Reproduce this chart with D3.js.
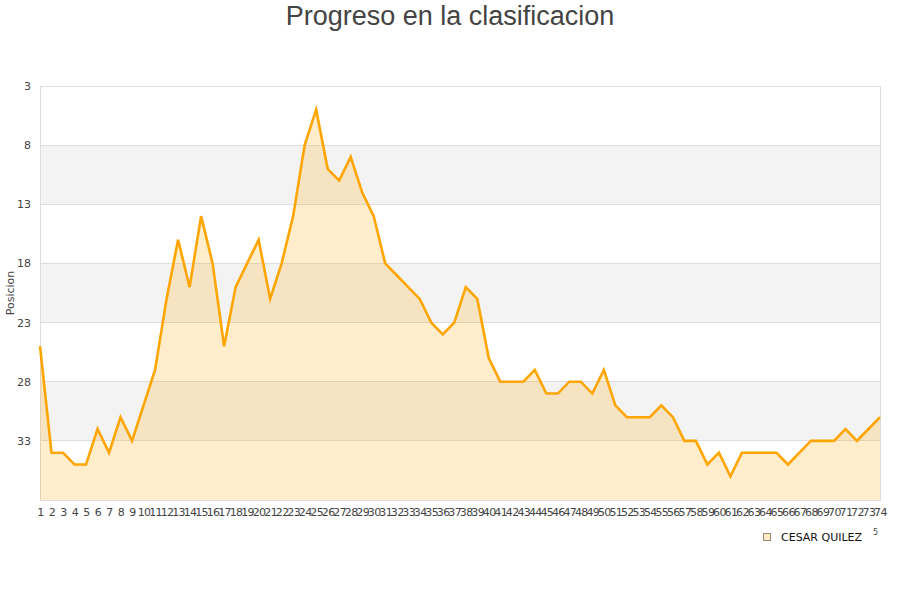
<!DOCTYPE html>
<html>
<head>
<meta charset="utf-8">
<script src="https://cdn.jsdelivr.net/npm/d3@7"></script>
<style>
  html, body { margin: 0; padding: 0; background: #fff; }
  svg { display: block; }
</style>
</head>
<body>
<svg id="chart" width="900" height="600"></svg>
<script>
// ---- data ----
const title = "Progreso en la clasificacion";
const yLabel = "Posicion";
const seriesName = "CESAR QUILEZ";
const rounds = d3.range(1, 75); // 1..74
const positions = [
  25, 34, 34, 35, 35, 32, 34, 31, 33, 30,
  27, 21, 16, 20, 14, 18, 25, 20, 18, 16,
  21, 18, 14, 8, 5, 10, 11, 9, 12, 14,
  18, 19, 20, 21, 23, 24, 23, 20, 21, 26,
  28, 28, 28, 27, 29, 29, 28, 28, 29, 27,
  30, 31, 31, 31, 30, 31, 33, 33, 35, 34,
  36, 34, 34, 34, 34, 35, 34, 33, 33, 33,
  32, 33, 32, 31
];
const yTicks = [3, 8, 13, 18, 23, 28, 33];
const yDomain = [3, 38];
const bands = [[8, 13], [18, 23], [28, 33]];

// ---- layout ----
const svg = d3.select("#chart");
const pLeft = 40, pRight = 880, pTop = 86, pBottom = 500;

const x = d3.scaleLinear().domain([1, 74]).range([pLeft, pRight]);
const y = d3.scaleLinear().domain(yDomain).range([pTop, pBottom]);

// title
svg.append("text")
  .attr("x", 450).attr("y", 25)
  .attr("text-anchor", "middle")
  .attr("font-family", "Liberation Sans, Arial, sans-serif")
  .attr("font-size", 27)
  .attr("fill", "#444")
  .text(title);

// bands
svg.append("g").selectAll("rect").data(bands).join("rect")
  .attr("x", pLeft).attr("width", pRight - pLeft)
  .attr("y", d => y(d[0])).attr("height", d => y(d[1]) - y(d[0]))
  .attr("fill", "#f3f3f3");

// grid lines
svg.append("g").selectAll("line").data(yTicks).join("line")
  .attr("x1", pLeft).attr("x2", pRight)
  .attr("y1", d => y(d)).attr("y2", d => y(d))
  .attr("stroke", "#dddddd").attr("stroke-width", 1)
  .attr("shape-rendering", "crispEdges");

// frame
svg.append("rect")
  .attr("x", pLeft).attr("y", pTop)
  .attr("width", pRight - pLeft).attr("height", pBottom - pTop)
  .attr("fill", "none").attr("stroke", "#dddddd")
  .attr("shape-rendering", "crispEdges");

const pts = rounds.map((r, i) => [r, positions[i]]);

// area
svg.append("path")
  .datum(pts)
  .attr("d", d3.area().x(d => x(d[0])).y0(y(yDomain[1])).y1(d => y(d[1])))
  .attr("fill", "rgba(255,165,0,0.2)");

// line
svg.append("path")
  .datum(pts)
  .attr("d", d3.line().x(d => x(d[0])).y(d => y(d[1])))
  .attr("fill", "none")
  .attr("stroke", "#FFA500")
  .attr("stroke-width", 2.6)
  .attr("stroke-linejoin", "miter");

// y axis ticks
const yAxis = d3.axisLeft(y).tickValues(yTicks).tickSize(0).tickPadding(0);
const gy = svg.append("g").attr("transform", `translate(${pLeft - 9},0)`).call(yAxis);
gy.select(".domain").remove();
gy.selectAll("text")
  .attr("font-family", "DejaVu Sans, sans-serif")
  .attr("font-size", 11)
  .attr("fill", "#444");

// x axis ticks
const xAxis = d3.axisBottom(x).tickValues(rounds).tickSize(0).tickPadding(0).tickFormat(d3.format("d"));
const gx = svg.append("g").attr("transform", `translate(0,${pBottom + 8})`).call(xAxis);
gx.select(".domain").remove();
gx.selectAll("text")
  .attr("font-family", "DejaVu Sans, sans-serif")
  .attr("font-size", 11)
  .attr("letter-spacing", -0.6)
  .attr("fill", "#444");

// y label
svg.append("text")
  .attr("transform", `translate(14,${(pTop + pBottom) / 2}) rotate(-90)`)
  .attr("text-anchor", "middle")
  .attr("font-family", "DejaVu Sans, sans-serif")
  .attr("font-size", 11)
  .attr("fill", "#444")
  .text(yLabel);

// legend
svg.append("rect")
  .attr("x", 763.5).attr("y", 533.5).attr("width", 7).attr("height", 7)
  .attr("fill", "#FEEBC9").attr("stroke", "#9a8a70").attr("stroke-width", 1);
svg.append("text")
  .attr("x", 781).attr("y", 541)
  .attr("font-family", "DejaVu Sans, sans-serif")
  .attr("font-size", 11)
  .attr("fill", "#111")
  .text(seriesName);
svg.append("text")
  .attr("x", 873).attr("y", 535)
  .attr("font-family", "DejaVu Sans, sans-serif")
  .attr("font-size", 8)
  .attr("fill", "#444")
  .text("5");
</script>
</body>
</html>
